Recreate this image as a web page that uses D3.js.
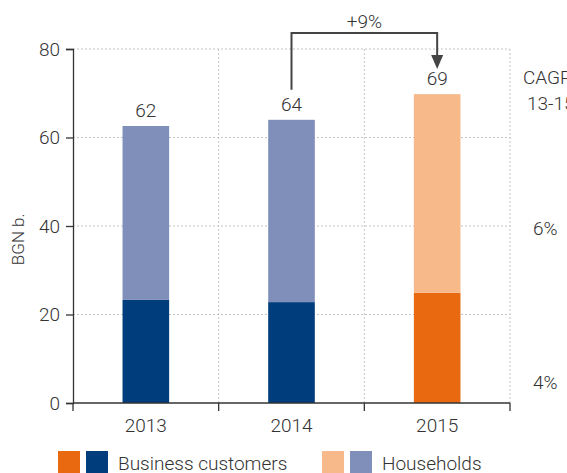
<!doctype html>
<html>
<head>
<meta charset="utf-8"/>
<title>BGN b.</title>
<script src="https://d3js.org/d3.v7.min.js"></script>
<style>
  body { margin: 0; background: #fff; }
  text { font-family: Roboto, "Liberation Sans", sans-serif; font-weight: 300; fill: #333; }
</style>
</head>
<body>
<div id="chart"></div>
<script>
  var years = ["2013", "2014", "2015"];
  var business = [23.3, 22.8, 24.9];
  var households = [39.3, 41.2, 44.9];
  var totals = ["62", "64", "69"];
  var yTicks = [0, 20, 40, 60, 80];
  var cagr = [["6%", 39.5], ["4%", 4.8]];

  var colBiz = ["#003d7c", "#003d7c", "#e8690f"];
  var colHh = ["#7f8fb9", "#7f8fb9", "#f7b98a"];
  var fs = 19;

  var svg = d3.select("#chart").append("svg")
    .attr("width", 567).attr("height", 473);

  var x = d3.scaleBand().domain(years).range([73, 510]).paddingInner(0.68).paddingOuter(0.34);
  var band = d3.scaleBand().domain(years).range([73, 510]);
  var y = d3.scaleLinear().domain([0, 80]).range([403, 49]);

  // grid
  svg.selectAll(".hg").data(yTicks.slice(1)).enter().append("line")
    .attr("x1", 73).attr("x2", 510)
    .attr("y1", function(d) { return y(d); }).attr("y2", function(d) { return y(d); })
    .attr("stroke", "#c4c4c4").attr("stroke-dasharray", "2,2");
  svg.selectAll(".vg").data(years).enter().append("line")
    .attr("x1", function(d) { return band(d) + band.bandwidth(); })
    .attr("x2", function(d) { return band(d) + band.bandwidth(); })
    .attr("y1", y(80)).attr("y2", y(0))
    .attr("stroke", "#c4c4c4").attr("stroke-dasharray", "2,2");

  // bars
  years.forEach(function(yr, i) {
    svg.append("rect")
      .attr("x", x(yr)).attr("width", x.bandwidth())
      .attr("y", y(business[i])).attr("height", y(0) - y(business[i]))
      .attr("fill", colBiz[i]);
    svg.append("rect")
      .attr("x", x(yr)).attr("width", x.bandwidth())
      .attr("y", y(business[i] + households[i]))
      .attr("height", y(business[i]) - y(business[i] + households[i]))
      .attr("fill", colHh[i]);
    svg.append("text")
      .attr("x", x(yr) + x.bandwidth() / 2)
      .attr("y", y(business[i] + households[i]) - 9)
      .attr("text-anchor", "middle").attr("font-size", fs)
      .text(totals[i]);
  });

  // axes
  var ya = svg.append("g").attr("transform", "translate(73,0)")
    .call(d3.axisLeft(y).tickValues(yTicks).tickSize(7).tickPadding(6));
  var xa = svg.append("g").attr("transform", "translate(0,403)")
    .call(d3.axisBottom(band).tickSize(0).tickPadding(16));
  [ya, xa].forEach(function(a) {
    a.select(".domain").attr("stroke", "#333").attr("stroke-width", 1.3);
    a.selectAll(".tick line").attr("stroke", "#333").attr("stroke-width", 1.3);
    a.selectAll("text").attr("font-size", fs).attr("fill", "#333")
      .attr("font-family", "Roboto, 'Liberation Sans', sans-serif").attr("font-weight", 300);
  });
  xa.select(".domain").attr("d", "M73,0V0H510V0");
  xa.selectAll(".bt").data([73].concat(years.map(function(d) { return band(d) + band.bandwidth(); })))
    .enter().append("line")
    .attr("x1", function(d) { return d; }).attr("x2", function(d) { return d; })
    .attr("y1", 0).attr("y2", 8).attr("stroke", "#333").attr("stroke-width", 1.3);

  svg.append("text")
    .attr("transform", "translate(24," + y(37) + ") rotate(-90)")
    .attr("text-anchor", "middle").attr("font-size", 17)
    .text("BGN b.");

  // growth arrow
  var x1 = x("2014") + x.bandwidth() / 2, x2 = x("2015") + x.bandwidth() / 2;
  svg.append("path")
    .attr("d", "M" + x1 + "," + (y(64) - 30) + "V33H" + x2 + "V58")
    .attr("fill", "none").attr("stroke", "#444").attr("stroke-width", 2);
  svg.append("path")
    .attr("d", "M" + (x2 - 6) + ",55L" + (x2 + 6) + ",55L" + x2 + ",69Z")
    .attr("fill", "#444");
  svg.append("text")
    .attr("x", (x1 + x2) / 2).attr("y", 28)
    .attr("text-anchor", "middle").attr("font-size", fs)
    .text("+9%");

  // CAGR
  svg.append("text").attr("x", 523).attr("y", 84).attr("font-size", fs).text("CAGR");
  svg.append("text").attr("x", 527).attr("y", 110).attr("font-size", fs).text("13-15");
  svg.selectAll(".cg").data(cagr).enter().append("text")
    .attr("x", 533).attr("font-size", fs)
    .attr("y", function(d) { return y(d[1]) + 7; })
    .text(function(d) { return d[0]; });

  // legend
  var legend = [
    { cols: ["#e8690f", "#003d7c"], label: "Business customers", x: 58 },
    { cols: ["#f7b98a", "#7f8fb9"], label: "Households", x: 322 }
  ];
  legend.forEach(function(l) {
    l.cols.forEach(function(c, j) {
      svg.append("rect").attr("x", l.x + j * 28).attr("y", 451)
        .attr("width", 22).attr("height", 22).attr("fill", c);
    });
    svg.append("text").attr("x", l.x + 60).attr("y", 470)
      .attr("font-size", fs).text(l.label);
  });
</script>
</body>
</html>
